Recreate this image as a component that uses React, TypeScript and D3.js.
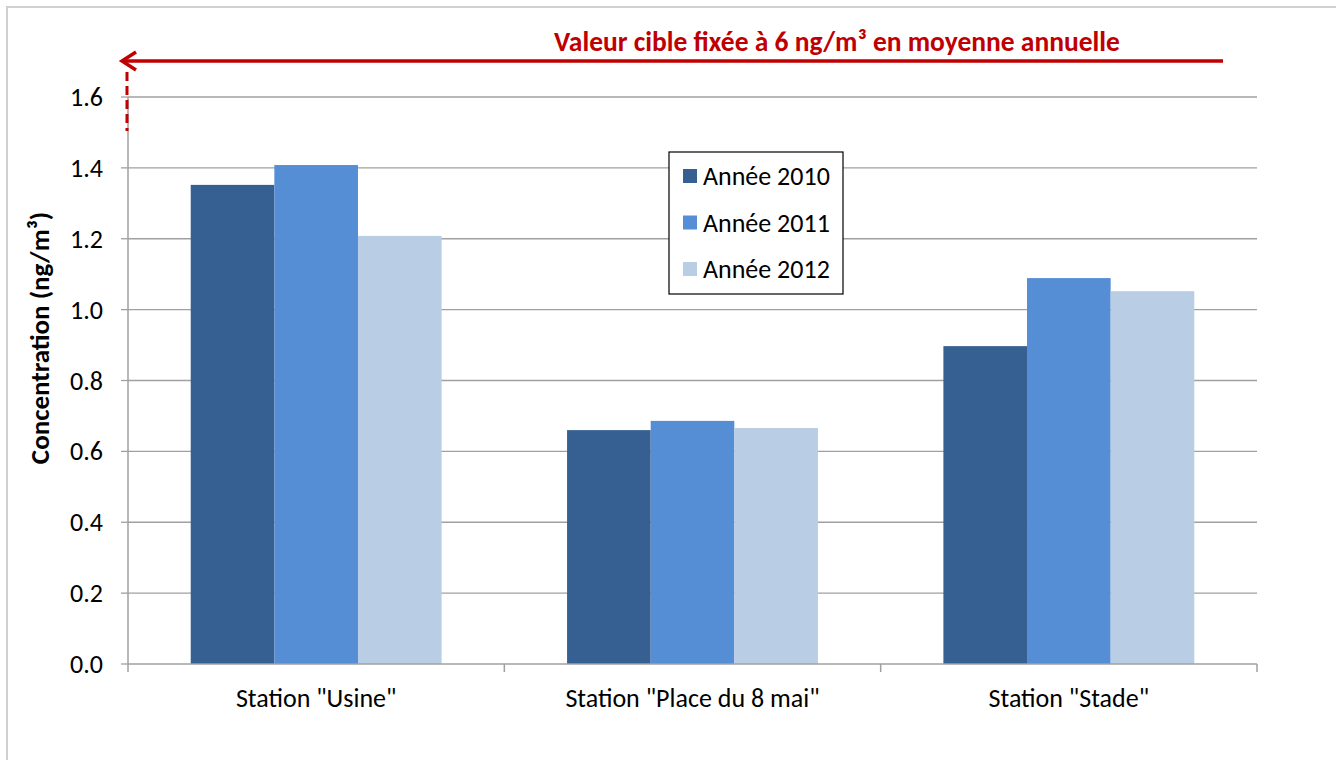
import React, { useEffect, useRef } from "react"
import * as d3 from "d3"

// données
const stations = ['Station "Usine"', 'Station "Place du 8 mai"', 'Station "Stade"']
const annees = ["Année 2010", "Année 2011", "Année 2012"]
const valeurs2010 = [1.352, 0.66, 0.897]
const valeurs2011 = [1.408, 0.686, 1.089]
const valeurs2012 = [1.208, 0.666, 1.052]
const yTicks = [0, 0.2, 0.4, 0.6, 0.8, 1.0, 1.2, 1.4, 1.6]
const couleurs = ["#376092", "#558ED5", "#B9CDE5"]
const titre = "Valeur cible fixée à 6 ng/m³ en moyenne annuelle"
const titreY = "Concentration (ng/m³)"

const W = 1336
const H = 760
const FONT = "Carlito, Calibri, Lato, sans-serif"

export default function App() {
  const ref = useRef<SVGSVGElement>(null)

  useEffect(() => {
    const svg = d3.select(ref.current)
    svg.selectAll("*").remove()

    const left = 128, right = 1257, top = 97, bottom = 664
    const series = [valeurs2010, valeurs2011, valeurs2012]

    const x = d3.scaleBand().domain(stations).range([left, right]).paddingInner(0).paddingOuter(0)
    const y = d3.scaleLinear().domain([0, 1.6]).range([bottom, top])
    // 3 barres + écart de 150%
    const bw = x.bandwidth() / 4.5
    const xi = d3.scaleBand().domain(annees).range([0.75 * bw, 3.75 * bw])

    // cadre
    svg.append("rect")
      .attr("x", 7).attr("y", 7).attr("width", W + 20).attr("height", H + 20)
      .attr("fill", "white").attr("stroke", "#d0d0d0").attr("stroke-width", 2)

    // grille
    svg.append("g").selectAll("line").data(yTicks.filter(d => d > 0)).join("line")
      .attr("x1", left).attr("x2", right)
      .attr("y1", d => y(d)).attr("y2", d => y(d))
      .attr("stroke", "#a0a0a0").attr("stroke-width", 1.3)

    // barres
    series.forEach((vals, si) => {
      svg.append("g").selectAll("rect").data(vals).join("rect")
        .attr("x", (d, i) => (x(stations[i]) as number) + (xi(annees[si]) as number))
        .attr("width", xi.bandwidth())
        .attr("y", d => y(d))
        .attr("height", d => bottom - y(d))
        .attr("fill", couleurs[si])
    })

    // axe Y
    const gy = svg.append("g")
    gy.append("line").attr("x1", left).attr("x2", left).attr("y1", top).attr("y2", bottom)
      .attr("stroke", "#a0a0a0").attr("stroke-width", 1.5)
    gy.selectAll("line.t").data(yTicks).join("line").attr("class", "t")
      .attr("x1", left - 7).attr("x2", left)
      .attr("y1", d => y(d)).attr("y2", d => y(d))
      .attr("stroke", "#a0a0a0").attr("stroke-width", 1.3)
    gy.selectAll("text").data(yTicks).join("text")
      .attr("x", 103).attr("y", d => y(d)).attr("dy", "0.35em")
      .attr("text-anchor", "end").attr("font-size", 26).attr("font-family", FONT)
      .attr("fill", "#000").text(d => d3.format(".1f")(d))

    // axe X
    const gx = svg.append("g")
    gx.append("line").attr("x1", left).attr("x2", right).attr("y1", bottom).attr("y2", bottom)
      .attr("stroke", "#a0a0a0").attr("stroke-width", 1.5)
    const bornes = stations.map(s => x(s) as number).concat([right])
    gx.selectAll("line.t").data(bornes).join("line").attr("class", "t")
      .attr("x1", d => d).attr("x2", d => d).attr("y1", bottom).attr("y2", bottom + 8)
      .attr("stroke", "#a0a0a0").attr("stroke-width", 1.5)
    gx.selectAll("text").data(stations).join("text")
      .attr("x", d => (x(d) as number) + x.bandwidth() / 2).attr("y", 698).attr("dy", "0.35em")
      .attr("text-anchor", "middle").attr("font-size", 26).attr("font-family", FONT)
      .text(d => d)

    // titre axe Y
    svg.append("text")
      .attr("transform", "translate(40,338) rotate(-90)").attr("dy", "0.35em")
      .attr("text-anchor", "middle").attr("font-size", 27).attr("font-weight", "bold")
      .attr("font-family", FONT).text(titreY)

    // flèche valeur cible
    const rouge = "#C00000"
    svg.append("line").attr("x1", 122).attr("x2", 1223).attr("y1", 61).attr("y2", 61)
      .attr("stroke", rouge).attr("stroke-width", 3.5)
    svg.append("path").attr("d", "M136,52 L122,61 L136,70")
      .attr("fill", "none").attr("stroke", rouge).attr("stroke-width", 3.5)
    svg.append("line").attr("x1", 127).attr("x2", 127).attr("y1", 72).attr("y2", 131)
      .attr("stroke", rouge).attr("stroke-width", 3).attr("stroke-dasharray", "9,5")
    svg.append("text").attr("x", 837).attr("y", 41).attr("dy", "0.35em")
      .attr("text-anchor", "middle").attr("font-size", 27.5).attr("font-weight", "bold")
      .attr("font-family", FONT).attr("fill", rouge).text(titre)

    // légende
    const lg = svg.append("g")
    lg.append("rect").attr("x", 669).attr("y", 152).attr("width", 174).attr("height", 142)
      .attr("fill", "white").attr("stroke", "#000").attr("stroke-width", 1.2)
    const ly = d3.scalePoint().domain(annees).range([176, 269])
    lg.selectAll("rect.s").data(annees).join("rect").attr("class", "s")
      .attr("x", 683).attr("y", d => (ly(d) as number) - 7).attr("width", 14).attr("height", 14)
      .attr("fill", (d, i) => couleurs[i])
    lg.selectAll("text").data(annees).join("text")
      .attr("x", 703).attr("y", d => ly(d) as number).attr("dy", "0.35em")
      .attr("font-size", 26).attr("font-family", FONT).text(d => d)
  }, [])

  return (
    <svg ref={ref} width={W} height={H} style={{ position: "absolute", left: 0, top: 0 }} />
  )
}
